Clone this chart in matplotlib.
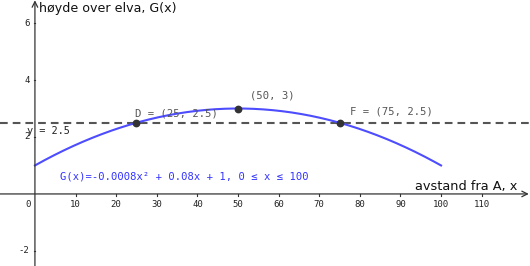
import numpy as np
import matplotlib
matplotlib.use("Agg")
import matplotlib.pyplot as plt

# G(x) = a x^2 + b x + c on 0..100
coef_a, coef_b, coef_c = -0.0008, 0.08, 1.0
x_min, x_max = 0, 100
level_y = 2.5

point_names = ["D", "", "F"]
point_x = [25, 50, 75]
point_y = [2.5, 3, 2.5]

x_ticks = [0, 10, 20, 30, 40, 50, 60, 70, 80, 90, 100, 110]
y_ticks = [-2, 2, 4, 6]

fig = plt.figure(figsize=(5.3, 2.66), dpi=100)
ax = fig.add_axes([0, 0, 1, 1])
ax.set_xlim(-8.6, 121.9)
ax.set_ylim(-2.53, 6.81)
ax.axis("off")

mono = "DejaVu Sans Mono"
gray = "#555555"
blue = "#4d4dff"

# axes with arrows
ax.annotate("", xy=(121.6, 0), xytext=(-8.6, 0),
            arrowprops=dict(arrowstyle="->", color="#333333", lw=0.9, shrinkA=0, shrinkB=0))
ax.annotate("", xy=(0, 6.8), xytext=(0, -2.53),
            arrowprops=dict(arrowstyle="->", color="#333333", lw=0.9, shrinkA=0, shrinkB=0))

for t in x_ticks:
    if t != 0:
        ax.plot([t, t], [0, -0.07], color="#333333", lw=0.8)
    ax.text(t - (1.6 if t == 0 else 0), -0.22, str(t), ha="center", va="top",
            fontsize=6.5, family=mono, color="#222222")
for t in y_ticks:
    ax.plot([0, -0.35], [t, t], color="#333333", lw=0.8)
    ax.text(-1.3, t, str(t), ha="right", va="center", fontsize=6.5, family=mono,
            color="#222222")

# dashed line y = 2.5
ax.axhline(level_y, color=gray, lw=1.5, ls=(0, (3.7, 2.4)))

# curve
xs = np.linspace(x_min, x_max, 300)
ax.plot(xs, coef_a * xs ** 2 + coef_b * xs + coef_c, color=blue, lw=1.5)

# points
ax.plot(point_x, point_y, "o", color="#333333", ms=4.6, zorder=5)
label_pos = [(24.6, 2.84), (53.0, 3.47), (77.6, 2.91)]
for name, px, py, (lx, ly) in zip(point_names, point_x, point_y, label_pos):
    lab = f"({px:g}, {py:g})"
    if name:
        lab = f"{name} = {lab}"
    ax.text(lx, ly, lab, fontsize=7.6, family=mono, color=gray, va="center", ha="left")

ax.text(-1.9, 2.21, "y = 2.5", fontsize=7.4, family=mono, color="#222222", va="center",
        ha="left")

ax.text(6.2, 0.6, "G(x)=-0.0008x² + 0.08x + 1, 0 ≤ x ≤ 100", fontsize=7.6, family=mono,
        color="#3333ff", va="center", ha="left")

ax.text(118.8, 0.25, "avstand fra A, x", fontsize=9.3, color="#111111", va="center",
        ha="right")
ax.text(1.1, 6.52, "høyde over elva, G(x)", fontsize=9.1, color="#111111", va="center",
        ha="left")

fig.savefig("out.png", dpi=100)
